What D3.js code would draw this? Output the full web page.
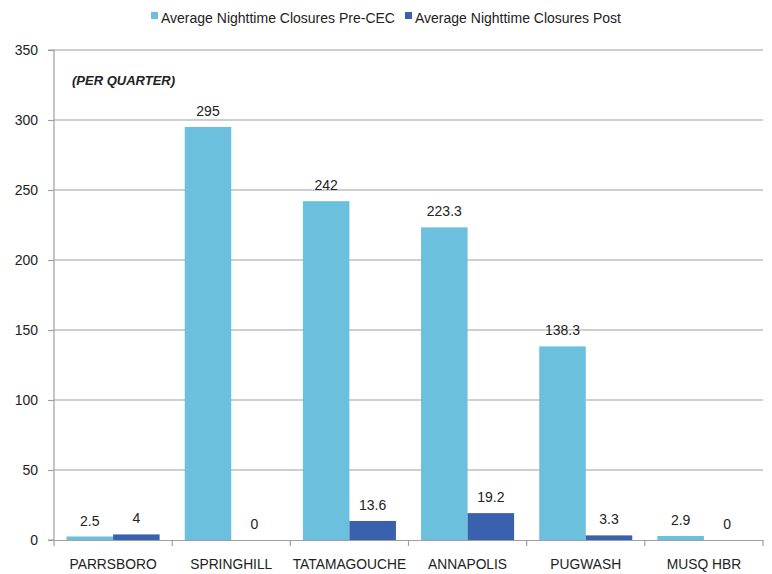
<!DOCTYPE html>
<html><head><meta charset="utf-8">
<script src="https://cdn.jsdelivr.net/npm/d3@7"></script>
<style>body{margin:0;background:#fff}svg{display:block}text{font-family:"Liberation Sans",Arial,sans-serif}</style>
</head><body><svg id="c" width="772" height="574"></svg>
<script>
const categories = ["PARRSBORO","SPRINGHILL","TATAMAGOUCHE","ANNAPOLIS","PUGWASH","MUSQ HBR"];
const preValues = [2.5, 295, 242, 223.3, 138.3, 2.9];
const postValues = [4, 0, 13.6, 19.2, 3.3, 0];
const seriesNames = ["Average Nighttime Closures Pre-CEC","Average Nighttime Closures Post"];
const yTicks = [0,50,100,150,200,250,300,350];
const colors = ["#6bc0de","#3961ae"];

const svg = d3.select("#c");
const m = {l:54, r:9, t:50, b:34};
const W = 772, H = 574;
const x = d3.scaleBand().domain(categories).range([m.l, W-m.r]).paddingInner(0).paddingOuter(0);
const x1 = d3.scaleBand().domain([0,1]).range([0, x.bandwidth()]).paddingInner(0).paddingOuter(0.27);
const y = d3.scaleLinear().domain([0,350]).range([H-m.b, m.t]);

// gridlines
svg.append("g").selectAll("line").data(yTicks.filter(d=>d>0)).join("line")
  .attr("x1", m.l).attr("x2", W-m.r).attr("y1", d=>y(d)).attr("y2", d=>y(d))
  .attr("stroke","#a0a0a0").attr("stroke-width",1.2);

// y axis
const ya = svg.append("g").attr("transform",`translate(${m.l},0)`)
  .call(d3.axisLeft(y).tickValues(yTicks).tickSize(6).tickPadding(10));
ya.select(".domain").attr("stroke","#a0a0a0").attr("stroke-width",1.2).attr("d",`M-6,${y(350)}H0V${y(0)}H-6`);
ya.selectAll(".tick line").attr("stroke","#a0a0a0").attr("stroke-width",1.2);
ya.selectAll("text").attr("font-size",14).attr("fill","#222").style("font-family","Liberation Sans, Arial, sans-serif");

// x axis
const xa = svg.append("g").attr("transform",`translate(0,${y(0)})`)
  .call(d3.axisBottom(x).tickSize(0).tickPadding(19));
xa.select(".domain").attr("stroke","#a0a0a0").attr("stroke-width",1.2);
xa.selectAll("text").attr("font-size",13.8).attr("fill","#222").style("font-family","Liberation Sans, Arial, sans-serif");
// category separator ticks
const seps = categories.map(c=>x(c)).concat([x(categories[categories.length-1])+x.bandwidth()]);
svg.append("g").selectAll("line").data(seps).join("line")
  .attr("x1",d=>d).attr("x2",d=>d).attr("y1",y(0)).attr("y2",y(0)+6)
  .attr("stroke","#a0a0a0").attr("stroke-width",1.2);

// bars
const rows = categories.map((c,i)=>({c, vals:[preValues[i], postValues[i]]}));
const g = svg.append("g").selectAll("g").data(rows).join("g").attr("transform",d=>`translate(${x(d.c)},0)`);
g.selectAll("rect").data(d=>d.vals.map((v,k)=>({v,k}))).join("rect")
  .attr("x",d=>x1(d.k)).attr("width",x1.bandwidth())
  .attr("y",d=>y(d.v)).attr("height",d=>y(0)-y(d.v))
  .attr("fill",d=>colors[d.k]);
g.selectAll("text").data(d=>d.vals.map((v,k)=>({v,k}))).join("text")
  .attr("x",d=>x1(d.k)+x1.bandwidth()/2).attr("y",d=>y(d.v)-11)
  .attr("text-anchor","middle").attr("font-size",14).attr("fill","#222")
  .text(d=>d.v);

// annotation
svg.append("text").attr("x",72).attr("y",85).attr("font-size",13).attr("font-weight","bold")
  .attr("font-style","italic").attr("fill","#222").text("(PER QUARTER)");

// legend
const lg = svg.append("g");
const lx = [151, 405];
seriesNames.forEach((n,i)=>{
  lg.append("rect").attr("x",lx[i]).attr("y",12).attr("width",7).attr("height",7).attr("fill",colors[i]);
  lg.append("text").attr("x",lx[i]+10).attr("y",23).attr("font-size",14).attr("fill","#222").text(n);
});
</script></body></html>
